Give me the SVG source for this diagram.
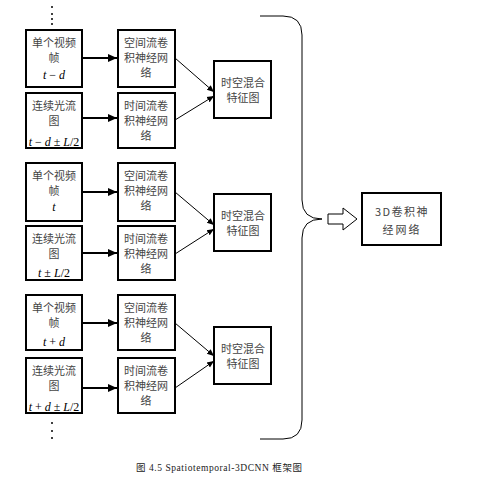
<svg xmlns="http://www.w3.org/2000/svg" width="496" height="483" viewBox="0 0 496 483">
<style>
.b{fill:#fff;stroke:#000;stroke-width:2}
.t{font-family:"Noto Sans CJK SC","Liberation Serif",serif;font-size:11px;fill:#444;text-anchor:middle}
.m{font-family:"Liberation Serif",serif;font-size:12px;fill:#000;text-anchor:middle}
.i{font-style:italic}
.c{fill:none;stroke:#000;stroke-width:1}
.a{fill:none;stroke:#000;stroke-width:2}
.cap{font-family:"Liberation Serif","Noto Sans CJK SC",serif;font-size:9.5px;fill:#222}
</style>
<defs>
<marker id="ah" markerWidth="8" markerHeight="8" refX="7" refY="4" orient="auto" markerUnits="userSpaceOnUse">
<path d="M0,1 L7,4 L0,7 Z" fill="#000"/>
</marker>
<marker id="ah2" markerWidth="10" markerHeight="10" refX="9" refY="5" orient="auto" markerUnits="userSpaceOnUse">
<path d="M0,1 L9,5 L0,9 Z" fill="#000"/>
</marker>
</defs>
<g id="dots">
<circle cx="52" cy="7" r="1" fill="#000"/>
<circle cx="52" cy="14" r="1" fill="#000"/>
<circle cx="52" cy="19" r="1" fill="#000"/>
<circle cx="52" cy="24" r="1" fill="#000"/>
<circle cx="52" cy="423" r="1" fill="#000"/>
<circle cx="52" cy="431" r="1" fill="#000"/>
<circle cx="52" cy="438" r="1" fill="#000"/>
</g>
<g id="connectors">
<line class="a" x1="82" y1="58" x2="117" y2="58" marker-end="url(#ah2)"/>
<line class="a" x1="82" y1="118" x2="117" y2="118" marker-end="url(#ah2)"/>
<line class="c" x1="175" y1="58" x2="214" y2="92" marker-end="url(#ah)"/>
<line class="c" x1="175" y1="120" x2="214" y2="96" marker-end="url(#ah)"/>
<line class="a" x1="82" y1="192" x2="117" y2="192" marker-end="url(#ah2)"/>
<line class="a" x1="82" y1="253" x2="117" y2="253" marker-end="url(#ah2)"/>
<line class="c" x1="175" y1="192" x2="214" y2="225" marker-end="url(#ah)"/>
<line class="c" x1="175" y1="254" x2="214" y2="229" marker-end="url(#ah)"/>
<line class="a" x1="82" y1="323" x2="117" y2="323" marker-end="url(#ah2)"/>
<line class="a" x1="82" y1="388" x2="117" y2="388" marker-end="url(#ah2)"/>
<line class="c" x1="175" y1="323" x2="214" y2="356" marker-end="url(#ah)"/>
<line class="c" x1="175" y1="388" x2="214" y2="361" marker-end="url(#ah)"/>
<path class="c" stroke-width="1.3" d="M260,16 L283,16 Q302,16 302,35 L302,200 Q302,219 322,219 Q302,219 302,238 L302,420 Q302,439 283,439 L260,439"/>
<path fill="#fff" stroke="#000" stroke-width="1" d="M328,214 L343,214 L343,208 L357,219 L343,230 L343,224 L328,224 Z"/>
</g>
<g id="n1a"><rect class="b" x="26" y="30" width="56" height="57"/>
<text class="t" x="54" y="47">单个视频</text><text class="t" x="54" y="62">帧</text>
<text class="m" x="54" y="79"><tspan class="i">t</tspan> − <tspan class="i">d</tspan></text></g>
<g id="n1b"><rect class="b" x="26" y="93" width="56" height="55"/>
<text class="t" x="54" y="110">连续光流</text><text class="t" x="54" y="125">图</text>
<text class="m" x="54" y="146"><tspan class="i">t</tspan> − <tspan class="i">d</tspan> ± <tspan class="i">L</tspan>/2</text></g>
<g id="n1c"><rect class="b" x="118" y="30" width="57" height="57"/>
<text class="t" x="146" y="47">空间流卷</text><text class="t" x="146" y="62">积神经网</text><text class="t" x="146" y="77">络</text></g>
<g id="n1d"><rect class="b" x="118" y="93" width="57" height="55"/>
<text class="t" x="146" y="110">时间流卷</text><text class="t" x="146" y="125">积神经网</text><text class="t" x="146" y="140">络</text></g>
<g id="n1e"><rect class="b" x="214" y="61" width="57" height="57"/>
<text class="t" x="243" y="87">时空混合</text><text class="t" x="243" y="102">特征图</text></g>

<g id="n2a"><rect class="b" x="26" y="163" width="56" height="58"/>
<text class="t" x="54" y="180">单个视频</text><text class="t" x="54" y="195">帧</text>
<text class="m" x="54" y="211"><tspan class="i">t</tspan></text></g>
<g id="n2b"><rect class="b" x="26" y="226" width="56" height="54"/>
<text class="t" x="54" y="243">连续光流</text><text class="t" x="54" y="258">图</text>
<text class="m" x="54" y="277"><tspan class="i">t</tspan> ± <tspan class="i">L</tspan>/2</text></g>
<g id="n2c"><rect class="b" x="118" y="163" width="57" height="58"/>
<text class="t" x="146" y="180">空间流卷</text><text class="t" x="146" y="195">积神经网</text><text class="t" x="146" y="210">络</text></g>
<g id="n2d"><rect class="b" x="118" y="226" width="57" height="54"/>
<text class="t" x="146" y="243">时间流卷</text><text class="t" x="146" y="258">积神经网</text><text class="t" x="146" y="273">络</text></g>
<g id="n2e"><rect class="b" x="214" y="194" width="57" height="57"/>
<text class="t" x="243" y="220">时空混合</text><text class="t" x="243" y="235">特征图</text></g>

<g id="n3a"><rect class="b" x="26" y="295" width="56" height="55"/>
<text class="t" x="54" y="312">单个视频</text><text class="t" x="54" y="327">帧</text>
<text class="m" x="54" y="346"><tspan class="i">t</tspan> + <tspan class="i">d</tspan></text></g>
<g id="n3b"><rect class="b" x="26" y="358" width="56" height="55"/>
<text class="t" x="54" y="375">连续光流</text><text class="t" x="54" y="390">图</text>
<text class="m" x="54" y="411"><tspan class="i">t</tspan> + <tspan class="i">d</tspan> ± <tspan class="i">L</tspan>/2</text></g>
<g id="n3c"><rect class="b" x="118" y="295" width="57" height="55"/>
<text class="t" x="146" y="312">空间流卷</text><text class="t" x="146" y="327">积神经网</text><text class="t" x="146" y="342">络</text></g>
<g id="n3d"><rect class="b" x="118" y="358" width="57" height="55"/>
<text class="t" x="146" y="375">时间流卷</text><text class="t" x="146" y="390">积神经网</text><text class="t" x="146" y="405">络</text></g>
<g id="n3e"><rect class="b" x="214" y="327" width="57" height="57"/>
<text class="t" x="243" y="353">时空混合</text><text class="t" x="243" y="368">特征图</text></g>

<g id="n3d_net"><rect class="b" x="362" y="193" width="79" height="52" stroke-width="1.5"/>
<text class="t" x="402" y="216" font-size="13" letter-spacing="1.5">3D卷积神</text><text class="t" x="402" y="234" font-size="13" letter-spacing="2">经网络</text></g>

<text class="cap" x="136" y="471" textLength="166" lengthAdjust="spacing">图 4.5 Spatiotemporal-3DCNN 框架图</text>
</svg>
